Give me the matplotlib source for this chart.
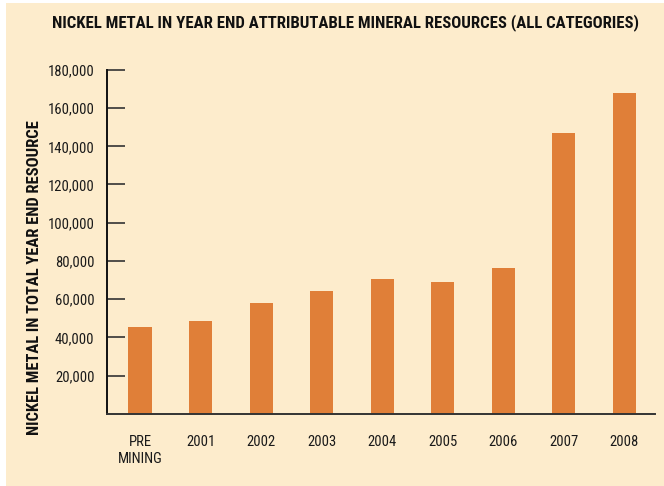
import matplotlib
matplotlib.use("Agg")
import matplotlib.pyplot as plt
from matplotlib.patches import Rectangle
from matplotlib import font_manager

categories = ["PRE\nMINING", "2001", "2002", "2003", "2004", "2005", "2006", "2007", "2008"]
values = [45400, 48500, 58000, 64200, 70500, 69000, 76300, 147000, 167900]
yticks = [20000, 40000, 60000, 80000, 100000, 120000, 140000, 160000, 180000]

names = {f.name for f in font_manager.fontManager.ttflist}
fam = "Roboto Condensed" if "Roboto Condensed" in names else ("Archivo Narrow" if "Archivo Narrow" in names else "DejaVu Sans")
plt.rcParams['font.family'] = [fam, 'DejaVu Sans']

cream = "#FDECCC"
bar_color = "#E07F38"

W, H = 664, 486
fig = plt.figure(figsize=(W/100, H/100), dpi=100, facecolor="white")
fig.patches.append(Rectangle((6/W, 0), 1 - 6/W, 1 - 3/H, transform=fig.transFigure,
                             facecolor=cream, edgecolor="none", zorder=-10))

ax = fig.add_axes([107/W, 1 - 413.7/H, (655 - 107)/W, (413.7 - 69.9)/H])
ax.set_facecolor("none")
x = list(range(len(categories)))
ax.bar(x, values, width=0.38, color=bar_color, zorder=2)
ax.set_xlim(-0.545, 8.504)
ax.set_ylim(0, 180000)
ax.set_yticks(yticks)
ax.set_yticklabels([f"{v:,}" for v in yticks], fontsize=11.5, color="#1a1a1a")
ax.set_xticks(x)
ax.set_xticklabels(categories, fontsize=11.5, color="#1a1a1a", linespacing=1.3)
ax.tick_params(axis="y", direction="in", length=13, width=1.2, color="#333333", pad=9)
ax.tick_params(axis="x", length=0, pad=15)
for s in ["top", "right"]:
    ax.spines[s].set_visible(False)
ax.spines["left"].set_linewidth(1.4)
ax.spines["left"].set_color("#111111")
ax.spines["bottom"].set_linewidth(1.4)
ax.spines["bottom"].set_color("#333333")

title = fig.text(345/W, 1 - 23/H, "NICKEL METAL IN YEAR END ATTRIBUTABLE MINERAL RESOURCES (ALL CATEGORIES)",
                 ha="center", va="center", fontsize=11, fontweight="bold", color="#111111")
ylab = fig.text(35/W, 1 - 278/H, "NICKEL METAL IN TOTAL YEAR END RESOURCE", rotation=90,
                ha="center", va="center", fontsize=11, fontweight="bold", color="#111111")

# fit text sizes to reference extents
r = fig.canvas.get_renderer()
def fit(t, target, horiz=True):
    bb = t.get_window_extent(r)
    cur = bb.width if horiz else bb.height
    t.set_fontsize(t.get_fontsize() * target / cur)
fit(title, 585)
fit(ylab, 315, horiz=False)
lab = ax.get_yticklabels()[-1]
bb = lab.get_window_extent(r)
s = 11.5 * 46 / bb.width
for t in ax.get_yticklabels() + ax.get_xticklabels():
    t.set_fontsize(s)

fig.savefig("out.png", dpi=100, facecolor="white")
